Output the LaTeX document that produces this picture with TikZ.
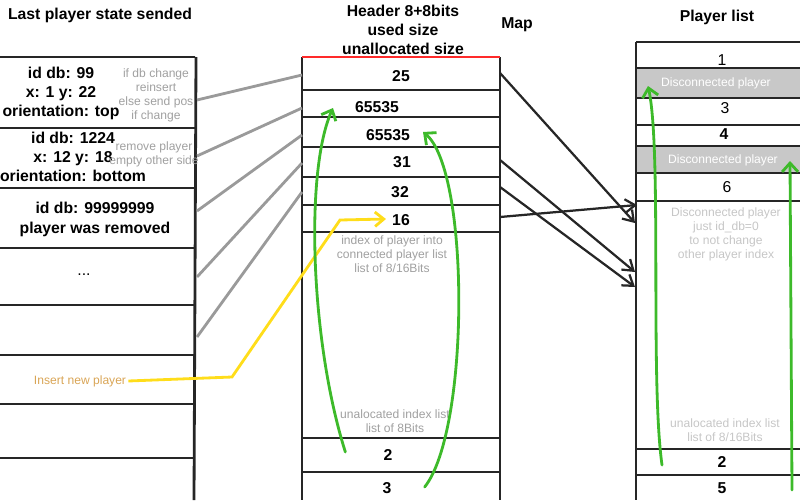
\documentclass[tikz,border=0pt]{standalone}
\usepackage{fontspec}
\setmainfont{Liberation Sans}
\usetikzlibrary{arrows.meta,calc}

\definecolor{hintgray}{HTML}{A0A0A0}
\definecolor{faintgray}{HTML}{C6C6C6}
\definecolor{linkgray}{HTML}{9A9A9A}
\definecolor{cellgray}{HTML}{C8C8C8}
\definecolor{reusegreen}{HTML}{3DBA2A}
\definecolor{insertyellow}{HTML}{FFDD1A}
\definecolor{inserttext}{HTML}{D9A556}
\definecolor{headred}{HTML}{FF2A2A}

\tikzset{
  rule/.style={line width=2pt, draw=black!85},
  val/.style={font=\bfseries\fontsize{11.2}{13.5}\selectfont, align=center, inner sep=0pt},
  num/.style={font=\fontsize{11.2}{13.5}\selectfont, inner sep=0pt},
  hint/.style={font=\fontsize{8.6}{10}\selectfont, text=hintgray, align=center, inner sep=0pt},
  faint/.style={hint, text=faintgray},
  feed/.style={line width=2pt, draw=linkgray},
  jump/.style={line width=1.6pt, draw=black!85, -{Straight Barb[length=2.5mm,width=3.4mm]}},
  reuse/.style={line width=2pt, draw=reusegreen, line cap=round, -{Straight Barb[length=2.2mm,width=4mm]}},
  insert/.style={line width=2pt, draw=insertyellow, -{Straight Barb[length=2.2mm,width=3.6mm]}}
}

\begin{document}
\begin{tikzpicture}[x=0.025cm, y=-0.025cm]
  \useasboundingbox (0,0) rectangle (800,500);
  \clip (0,0) rectangle (800,500);

  % titles
  \node[val] (tstate) at (100,15) {Last player state sended};
  \node[val] (thead) at (403,30) {Header 8+8bits\\used size\\unallocated size};
  \node[val] (tmap) at (517,25) {Map};
  \node[val] (tlist) at (717,17) {Player list};

  % last player state sended
  \foreach \y in {57,128,188,248,305,355,404,458}
    \draw[rule] (0,\y) -- (195,\y);
  \draw[rule] (196,57) -- (194,500);
  \node[val] (s99) at (61,93) {id db: 99\\x: 1 y: 22\\orientation: top};
  \node[val] (s1224) at (73,157) {id db: 1224\\x: 12 y: 18\\orientation: bottom};
  \node[val, font=\bfseries\fontsize{11.2}{14.2}\selectfont] (s999) at (95,219) {id db: 99999999\\player was removed};
  \node[val, font=\fontsize{11.2}{13.5}\selectfont] (sdots) at (84,275) {...};
  \node[hint] (nchange) at (156,95) {if db change\\reinsert\\else send pos\\if change};
  \node[hint] (nremove) at (154,154) {remove player\\empty other side};
  \node[font=\fontsize{8.6}{10}\selectfont, text=inserttext, inner sep=0pt] (ins) at (80,381) {Insert new player};

  % map
  \foreach \y in {90,117,147,177,205,232,438,472}
    \draw[rule] (302,\y) -- (500,\y);
  \draw[rule] (302,57) -- (302,500);
  \draw[rule] (500,57) -- (500,500);
  \draw[line width=2pt, headred] (302,57) -- (500,57);
  \node[val] (m25) at (401,76) {25};
  \node[val] (m65a) at (377,107) {65535};
  \node[val] (m65b) at (388,135) {65535};
  \node[val] (m31) at (402,162) {31};
  \node[val] (m32) at (400,192) {32};
  \node[val] (m16) at (401,220) {16};
  \node[hint] (mnote) at (392,254) {index of player into\\connected player list\\list of 8/16Bits};
  \node[hint] (mfree) at (395,421) {unalocated index list\\list of 8Bits};
  \node[val] (m2) at (388,455) {2};
  \node[val] (m3) at (387,488) {3};

  % player list
  \fill[cellgray] (637,68) rectangle (800,98);
  \fill[cellgray] (637,146) rectangle (800,173);
  \foreach \y in {42,68,98,125,146,173,201,449,475}
    \draw[rule] (636,\y) -- (800,\y);
  \draw[rule] (636,42) -- (636,500);
  \node[num] (p1) at (722,60) {1};
  \node[hint, text=white] (pd2) at (716,83) {Disconnected player};
  \node[num] (p3) at (725,108) {3};
  \node[val] (p4) at (724,134) {4};
  \node[hint, text=white] (pd5) at (723,160) {Disconnected player};
  \node[num] (p6) at (727,187) {6};
  \node[faint] (pnote) at (726,234) {Disconnected player\\just id\_db=0\\to not change\\other player index};
  \node[faint] (pfree) at (725,430) {unalocated index list\\list of 8/16Bits};
  \node[val] (p2) at (722,462) {2};
  \node[val] (p5) at (722,488) {5};

  % connector ends
  \coordinate (sa) at (197,100);  \coordinate (ma) at (302,75);
  \coordinate (sb) at (197,156);  \coordinate (mb) at (302,108);
  \coordinate (sc) at (197,211);  \coordinate (mc) at (302,135);
  \coordinate (sd) at (197,277);  \coordinate (md) at (302,163);
  \coordinate (se) at (197,337);  \coordinate (me) at (302,192);
  \coordinate (r25) at (500,73);  \coordinate (q25) at (635,223);
  \coordinate (r31) at (500,160); \coordinate (q31) at (635,272);
  \coordinate (r32) at (500,187); \coordinate (q32) at (635,287);
  \coordinate (r16) at (500,217); \coordinate (q16) at (637,205);

  \draw[feed] (sa) -- (ma);
  \draw[feed] (sb) -- (mb);
  \draw[feed] (sc) -- (mc);
  \draw[feed] (sd) -- (md);
  \draw[feed] (se) -- (me);

  \draw[jump] (r25) -- (q25);
  \draw[jump] (r31) -- (q31);
  \draw[jump] (r32) -- (q32);
  \draw[jump] (r16) -- (q16);

  \draw[insert] (ins.east) ++(2,0) -- (232,377) -- (340,220) -- ($(m16.west)+(-6,-1)$);

  \draw[reuse] (m2.west) ++(-38,-3) .. controls (310,340) and (305,170) .. (333,108);
  \draw[reuse] (m3.east) ++(33,-1) .. controls (470,430) and (470,170) .. (423,132);
  \draw[reuse] (662,465) .. controls (650,380) and (662,150) .. (648,86);
  \draw[reuse] (792,490) -- (790,161);
\end{tikzpicture}
\end{document}
